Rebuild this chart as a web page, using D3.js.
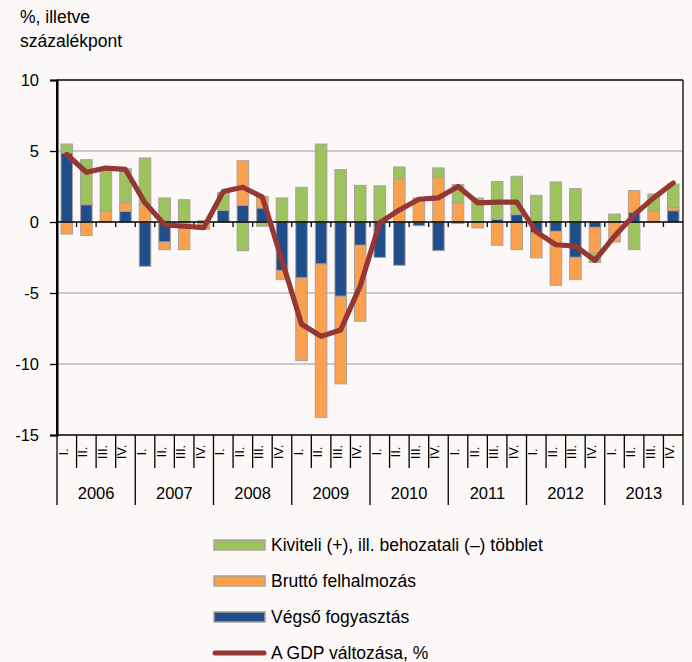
<!DOCTYPE html>
<html>
<head>
<meta charset="utf-8">
<script src="https://cdn.jsdelivr.net/npm/d3@7"></script>
<style>
  html, body { margin: 0; padding: 0; background: #fbf8f7; }
  svg { display: block; font-family: "Liberation Sans", Arial, sans-serif; }
</style>
</head>
<body>
<svg id="chart" width="692" height="662"></svg>
<script>
const years = ["2006","2007","2008","2009","2010","2011","2012","2013"];
const quarters = ["I.","II.","III.","IV."];
const yTicks = [10, 5, 0, -5, -10, -15];

// Végső fogyasztás
const consumption = [
  4.86, 1.22, 0, 0.75,
  -3.12, -1.41, 0, -0.05,
  0.82, 1.17, 0.99, -3.43,
  -3.94, -2.96, -5.23, -1.64,
  -2.49, -3.05, -0.26, -2.02,
  -0.1, 0, 0.2, 0.52,
  -0.77, -0.66, -2.49, -0.38,
  0, 0.68, 0.05, 0.8
];
// Bruttó felhalmozás
const investment = [
  -0.85, -0.96, 0.75, 0.6,
  1.27, -0.54, -1.95, -0.45,
  0, 3.15, 0.82, -0.63,
  -5.82, -10.8, -6.17, -5.35,
  0.2, 3.03, 1.69, 3.15,
  1.34, -0.42, -1.64, -1.95,
  -1.76, -3.8, -1.57, -1.81,
  -1.41, 1.53, 0.7, 0.23
];
// Kiviteli (+), ill. behozatali (–) többlet
const netExport = [
  0.63, 3.17, 3.1, 2.4,
  3.24, 1.69, 1.57, 0.1,
  1.27, -2.02, -0.3, 1.69,
  2.44, 5.49, 3.69, 2.58,
  2.35, 0.85, 0, 0.66,
  1.29, 1.69, 2.65, 2.7,
  1.88, 2.82, 2.35, -0.66,
  0.56, -1.95, 1.22, 1.64
];
// A GDP változása, %
const gdp = [
  4.75, 3.5, 3.8, 3.7,
  1.35, -0.2, -0.3, -0.4,
  2.15, 2.45, 1.75, -2.7,
  -7.2, -8.05, -7.6, -4.5,
  -0.05, 0.85, 1.6, 1.7,
  2.5, 1.35, 1.4, 1.4,
  -0.7, -1.6, -1.7, -2.7,
  -1.0, 0.5, 1.7, 2.75
];

const seriesKeys = ["consumption", "investment", "netExport"];
const colors = { consumption: "#1f4e8a", investment: "#fba14d", netExport: "#9dc35c" };
const legendItems = [
  { label: "Kiviteli (+), ill. behozatali (–) többlet", key: "netExport" },
  { label: "Bruttó felhalmozás", key: "investment" },
  { label: "Végső fogyasztás", key: "consumption" },
  { label: "A GDP változása, %", key: "gdp" }
];

const ids = [];
years.forEach(yr => quarters.forEach(q => ids.push(yr + "-" + q)));
const rows = ids.map((id, i) => ({
  id, consumption: consumption[i], investment: investment[i], netExport: netExport[i], gdp: gdp[i]
}));

const svg = d3.select("#chart");
const pLeft = 57, pRight = 683, pTop = 80, pBottom = 435;

const x = d3.scaleBand().domain(ids).range([pLeft, pRight]).paddingInner(0.41).paddingOuter(0.205);
const xb = d3.scaleBand().domain(ids).range([pLeft, pRight]);
const y = d3.scaleLinear().domain([-15, 10]).range([pBottom, pTop]);

// grid lines
svg.append("g").selectAll("line").data([5, -5, -10]).join("line")
  .attr("x1", pLeft).attr("x2", pRight)
  .attr("y1", d => y(d)).attr("y2", d => y(d))
  .attr("stroke", "#9a9a9a").attr("stroke-width", 1.2);

// bars
const stacked = d3.stack().keys(seriesKeys).offset(d3.stackOffsetDiverging)(rows);
svg.append("g").selectAll("g").data(stacked).join("g")
  .attr("fill", d => colors[d.key])
  .selectAll("rect").data(d => d).join("rect")
  .attr("x", d => x(d.data.id))
  .attr("width", x.bandwidth())
  .attr("y", d => y(Math.max(d[0], d[1])))
  .attr("height", d => Math.abs(y(d[0]) - y(d[1])))
  .attr("stroke", "#a8a29e").attr("stroke-width", 1);

// frame
const frame = svg.append("g").attr("stroke", "#000").attr("fill", "none");
frame.append("line").attr("x1", pLeft).attr("x2", pRight).attr("y1", y(10)).attr("y2", y(10)).attr("stroke-width", 1.3);
frame.append("line").attr("x1", pRight).attr("x2", pRight).attr("y1", y(10)).attr("y2", y(-15)).attr("stroke-width", 1.3);
frame.append("line").attr("x1", pLeft).attr("x2", pRight).attr("y1", y(-15)).attr("y2", y(-15)).attr("stroke-width", 1.3);
frame.append("line").attr("x1", pLeft).attr("x2", pRight).attr("y1", y(0)).attr("y2", y(0)).attr("stroke-width", 1.6);

// ticks on zero line
svg.append("g").selectAll("line").data(ids.slice(1)).join("line")
  .attr("x1", d => xb(d)).attr("x2", d => xb(d))
  .attr("y1", y(0)).attr("y2", y(0) + 5)
  .attr("stroke", "#000").attr("stroke-width", 1.3);

// y axis
const yAxis = d3.axisLeft(y).tickValues(yTicks).tickSize(7).tickPadding(11).tickFormat(d3.format("d"));
const gy = svg.append("g").attr("transform", `translate(${pLeft},0)`).call(yAxis);
gy.select(".domain").attr("stroke", "#000").attr("stroke-width", 2);
gy.selectAll(".tick line").attr("stroke", "#000").attr("stroke-width", 1.3);
gy.selectAll(".tick text").attr("font-size", 16.5).attr("fill", "#000")
  .attr("font-family", "'Liberation Sans', Arial, sans-serif").text(d => d < 0 ? "-" + Math.abs(d) : d);

// x axis: quarter separators, labels, years
const xg = svg.append("g");
xg.selectAll("line.q").data(ids.slice(1)).join("line")
  .attr("x1", d => xb(d)).attr("x2", d => xb(d))
  .attr("y1", pBottom).attr("y2", (d, i) => ((i + 1) % 4 === 0) ? 505 : 468)
  .attr("stroke", "#000").attr("stroke-width", 1.3);
xg.append("line").attr("x1", pLeft).attr("x2", pLeft).attr("y1", pBottom).attr("y2", 505).attr("stroke", "#000").attr("stroke-width", 1.3);
xg.append("line").attr("x1", pRight).attr("x2", pRight).attr("y1", pBottom).attr("y2", 505).attr("stroke", "#000").attr("stroke-width", 1.3);
xg.selectAll("text.q").data(ids).join("text")
  .attr("transform", d => `translate(${xb(d) + xb.bandwidth() / 2 + 1},452) rotate(-90)`)
  .attr("text-anchor", "middle").attr("font-size", 13).attr("fill", "#000")
  .text(d => d.split("-")[1]);
xg.selectAll("text.y").data(years).join("text")
  .attr("x", (d, i) => xb(ids[i * 4]) + xb.bandwidth() * 2)
  .attr("y", 499).attr("text-anchor", "middle").attr("font-size", 16.5).attr("fill", "#000")
  .text(d => d);

// y axis line on top
svg.append("line").attr("x1", pLeft).attr("x2", pLeft).attr("y1", pTop).attr("y2", pBottom).attr("stroke", "#000").attr("stroke-width", 2);

// GDP line
const line = d3.line().x(d => xb(d.id) + xb.bandwidth() / 2).y(d => y(d.gdp));
svg.append("path").datum(rows).attr("d", line)
  .attr("fill", "none").attr("stroke", "#953735").attr("stroke-width", 5.2)
  .attr("stroke-linejoin", "round").attr("stroke-linecap", "round");

// unit label
svg.append("text").attr("x", 20).attr("y", 23).attr("font-size", 17.5).attr("fill", "#000").text("%, illetve");
svg.append("text").attr("x", 20).attr("y", 47).attr("font-size", 17.5).attr("fill", "#000").text("százalékpont");

// legend
const lg = svg.append("g");
const rowsY = [545, 581, 617, 653];
legendItems.forEach((it, i) => {
  const cy = rowsY[i];
  if (it.key === "gdp") {
    lg.append("line").attr("x1", 215).attr("x2", 264).attr("y1", cy).attr("y2", cy)
      .attr("stroke", "#953735").attr("stroke-width", 5).attr("stroke-linecap", "round");
  } else {
    lg.append("rect").attr("x", 214).attr("y", cy - 5).attr("width", 51).attr("height", 10)
      .attr("fill", colors[it.key]).attr("stroke", "#a8a29e").attr("stroke-width", 1.5);
  }
  lg.append("text").attr("x", 271).attr("y", cy + 6).attr("font-size", 17.5).attr("fill", "#000").text(it.label);
});
</script>
</body>
</html>
